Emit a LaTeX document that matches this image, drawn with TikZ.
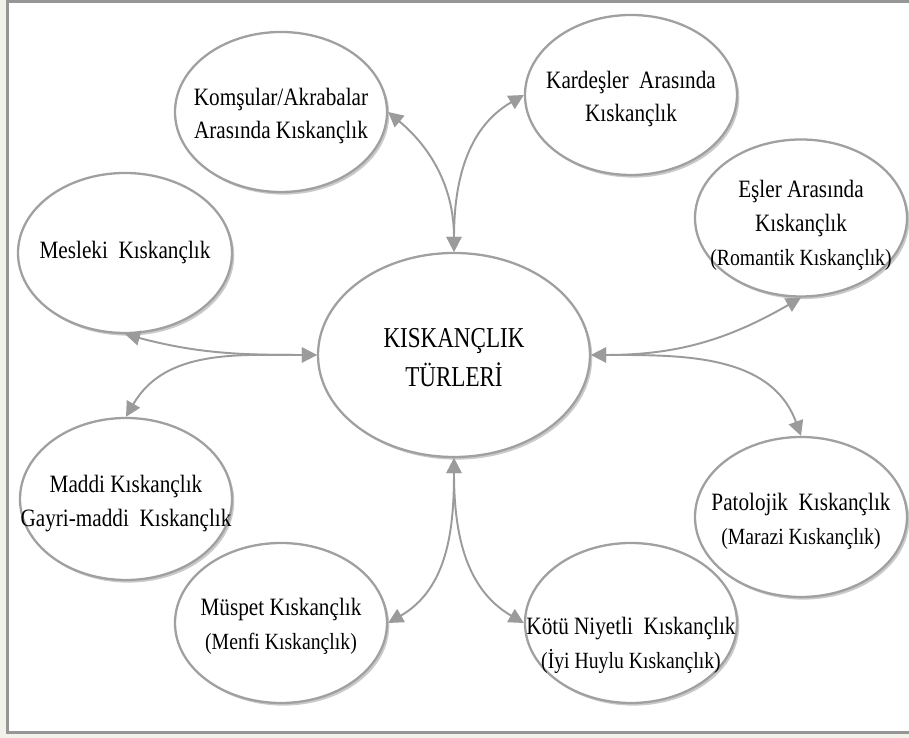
\documentclass[tikz,border=0pt]{standalone}
\usepackage{fontspec}
\setmainfont{Liberation Serif}
\newfontfamily\ovalfont[FakeStretch=0.85]{Liberation Serif}
\newfontfamily\hubfont[FakeStretch=0.80]{Liberation Serif}
\definecolor{bgbeige}{RGB}{242,242,234}
\definecolor{framegray}{RGB}{150,150,150}
\definecolor{ovalgray}{RGB}{160,160,160}
\definecolor{shadowgray}{RGB}{150,150,150}
\definecolor{linkgray}{RGB}{155,155,155}
\usetikzlibrary{arrows.meta,shapes.geometric,shadows}

\begin{document}
\begin{tikzpicture}[
  oval/.style={ellipse, draw=ovalgray, fill=white, line width=1.3pt, inner sep=0pt,
    minimum width=4.24cm, minimum height=3.2cm,
    drop shadow={shadow xshift=1.3pt, shadow yshift=-1.5pt, fill=shadowgray}},
  ovaltext/.style={align=center, inner sep=0pt, font=\ovalfont\fontsize{14.2}{19.3}\selectfont},
  link/.style={{Triangle[length=8.5pt,width=8.5pt]}-{Triangle[length=8.5pt,width=8.5pt]},
    draw=linkgray, line width=1.1pt}]
\useasboundingbox (0,0) rectangle (18.18,14.76);
% Frame
\fill[bgbeige] (0,0) rectangle (18.18,14.76);
\draw[framegray, line width=1.6pt, fill=white] (0.15,0.11) rectangle (18.5,14.73);
% Ovals
\node[oval, minimum width=5.44cm, minimum height=4.08cm] (mer) at (9.08,7.66) {};
\node[oval] (kom) at (5.62,12.52) {};
\node[oval] (kar) at (12.62,12.86) {};
\node[oval, minimum height=3.14cm] (esl) at (16.02,10.40) {};
\node[oval, minimum width=4.28cm] (mes) at (2.50,9.70) {};
\node[oval, minimum height=3.24cm] (mad) at (2.52,4.78) {};
\node[oval] (mus) at (5.62,2.30) {};
\node[oval] (kot) at (12.62,2.30) {};
\node[oval] (pat) at (16.02,4.42) {};
% Texts
\node[ovaltext, font=\hubfont\fontsize{16.4}{22.1}\selectfont, yshift=-0.06cm] (mer-t) at (mer) {KISKANÇLIK\\TÜRLERİ};
\node[ovaltext, yshift=-0.08cm] (kom-t) at (kom) {Komşular/Akrabalar\\Arasında Kıskançlık};
\node[ovaltext, yshift=-0.08cm] (kar-t) at (kar) {Kardeşler\ \ Arasında\\Kıskançlık};
\node[ovaltext, yshift=-0.14cm] (esl-t) at (esl) {Eşler Arasında\\Kıskançlık\\{\fontsize{13.2}{18}\selectfont(Romantik Kıskançlık)}};
\node[ovaltext] (mes-t) at (mes) {Mesleki\ \ Kıskançlık};
\node[ovaltext, yshift=-0.1cm] (mad-t) at (mad) {Maddi Kıskançlık\\Gayri-maddi\ \ Kıskançlık};
\node[ovaltext, yshift=-0.06cm] (mus-t) at (mus) {Müspet Kıskançlık\\{\fontsize{13.2}{18}\selectfont(Menfi Kıskançlık)}};
\node[ovaltext, yshift=-0.44cm] (kot-t) at (kot) {Kötü Niyetli\ \ Kıskançlık\\{\fontsize{13.2}{18}\selectfont(İyi Huylu Kıskançlık)}};
\node[ovaltext, yshift=-0.09cm] (pat-t) at (pat) {Patolojik\ \ Kıskançlık\\{\fontsize{13.2}{18}\selectfont(Marazi Kıskançlık)}};
% Arrows
\foreach \a/\b/\o/\i in {mer.north/kom.east/90/-40, mer.north/kar.west/90/-150,
  mer.west/mes.south/180/-15, mer.west/mad.north/180/60,
  mer.east/esl.south/0/-150, mer.east/pat.north/0/110,
  mer.south/mus.east/-90/30, mer.south/kot.west/-90/150} {
  \draw[link] (\a) to[out=\o, in=\i] (\b);
}
\end{tikzpicture}
\end{document}
